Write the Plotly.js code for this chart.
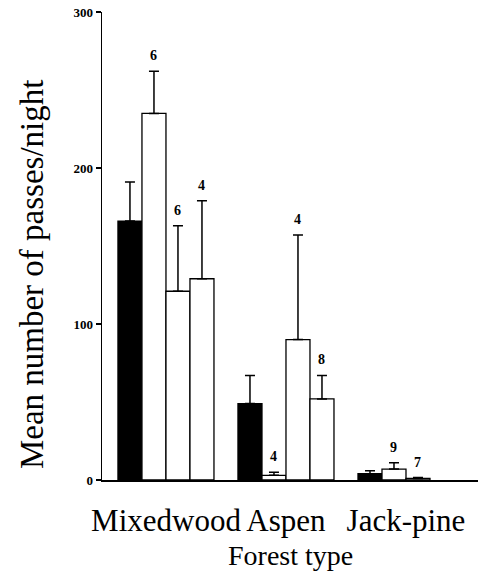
<!DOCTYPE html>
<html>
<head>
<meta charset="utf-8">
<script src="https://cdn.plot.ly/plotly-3.0.1.min.js"></script>
<style>html,body{margin:0;padding:0;background:#fff;}#chart{width:478px;height:577px;}</style>
</head>
<body>
<div id="chart"></div>
<script>
// Data
const categories = ["Mixedwood", "Aspen", "Jack-pine"];
const series1 = [166, 49, 4];
const series1Err = [25, 18, 2];
const series2 = [235, 3, 7];
const series2Err = [27, 2, 4];
const series3 = [121, 90, 1];
const series3Err = [42, 67, 0.6];
const series4 = [129, 52, null];
const series4Err = [50, 15, null];
const series2N = ["6", "4", "9"];
const series3N = ["6", "4", "7"];
const series4N = ["4", "8", null];

const serif = "'Liberation Serif', 'DejaVu Serif', 'Times New Roman', serif";
const allVals = [series1, series2, series3, series4];
const allErr = [series1Err, series2Err, series3Err, series4Err];
const fills = ["#000000", "#ffffff", "#ffffff", "#ffffff"];

const traces = allVals.map((vals, i) => ({
  type: "bar",
  x: categories,
  y: vals,
  marker: {color: fills[i], line: {color: "#000", width: 1.3}},
  error_y: {type: "data", symmetric: false, array: allErr[i], arrayminus: vals.map(() => 0),
            color: "#000", thickness: 1.5, width: 5},
  showlegend: false,
  hoverinfo: "none"
}));

const barPx = 24;
const annotations = [];
[[1, series2N], [2, series3N], [3, series4N]].forEach(([si, labels]) => {
  labels.forEach((lab, ci) => {
    if (lab === null) return;
    annotations.push({
      x: categories[ci], y: allVals[si][ci] + allErr[si][ci],
      xref: "x", yref: "y", text: lab, showarrow: false,
      xshift: (si - 1.5) * barPx, yshift: 6, yanchor: "bottom",
      font: {family: serif, size: 14, color: "#000", weight: "bold"}
    });
  });
});
annotations.push({
  xref: "paper", yref: "paper", x: 0.5, y: 0, yshift: -58, yanchor: "top",
  text: "Forest type", showarrow: false,
  font: {family: serif, size: 28, color: "#000"}
});
annotations.push({
  xref: "paper", yref: "paper", x: 0, xshift: -70, xanchor: "center", y: 0.44, yanchor: "middle",
  text: "Mean number of passes/night", textangle: -90, showarrow: false,
  font: {family: serif, size: 33, color: "#000"}
});

const layout = {
  width: 478, height: 577,
  margin: {l: 102, r: 0, t: 12, b: 97},
  paper_bgcolor: "#fff", plot_bgcolor: "#fff",
  barmode: "group", bargap: 0.2, bargroupgap: 0,
  xaxis: {
    type: "category", range: [-0.533, 2.6],
    showline: true, linecolor: "#000", linewidth: 1.5,
    ticks: "", showgrid: false, zeroline: false,
    ticklabelstandoff: 12,
    tickfont: {family: serif, size: 31, color: "#000"}
  },
  yaxis: {
    range: [0, 300], tickvals: [0, 100, 200, 300],
    showline: true, linecolor: "#000", linewidth: 1.5,
    ticks: "outside", ticklen: 5, tickwidth: 1.5, tickcolor: "#000",
    showgrid: false, zeroline: false,
    tickfont: {family: serif, size: 13, color: "#000", weight: "bold"}
  },
  annotations: annotations
};

Plotly.newPlot("chart", traces, layout, {staticPlot: true, displayModeBar: false});
</script>
</body>
</html>
